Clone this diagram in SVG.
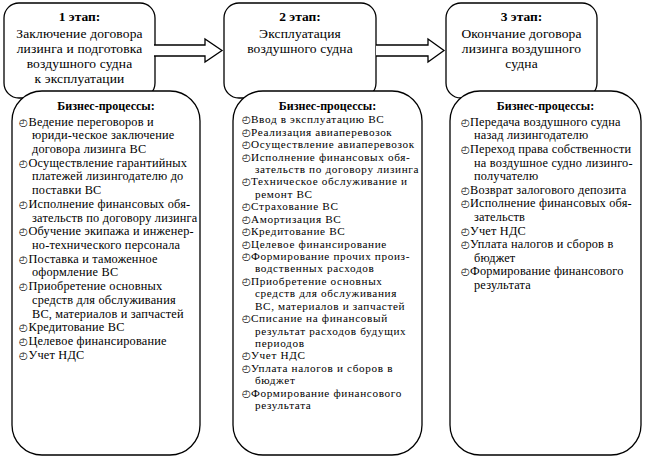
<svg xmlns="http://www.w3.org/2000/svg" width="645" height="460" viewBox="0 0 645 460">
<style>
.box{fill:#fff;stroke:#000;stroke-width:1.3}
.arr{fill:#fff;stroke:#000;stroke-width:1.3;stroke-linejoin:miter}
</style>
<rect width="645" height="460" fill="#fff"/>
<g id="stage1">
<rect class="box" x="4" y="3" width="151" height="95" rx="15"/>
<text font-family="Liberation Serif" font-size="13.5" font-weight="bold" x="79.5" y="21" text-anchor="middle">1 этап:</text>
<text font-family="Liberation Serif" font-size="13.5" letter-spacing="0.15" text-anchor="middle"><tspan x="79.5" y="37.8">Заключение договора</tspan><tspan x="79.5" y="52.8">лизинга и подготовка</tspan><tspan x="79.5" y="67.8">воздушного судна</tspan><tspan x="79.5" y="82.8">к эксплуатации</tspan></text>
</g>
<g id="stage2">
<rect class="box" x="224" y="3" width="152" height="95" rx="15"/>
<text font-family="Liberation Serif" font-size="13.5" font-weight="bold" x="300" y="21" text-anchor="middle">2 этап:</text>
<text font-family="Liberation Serif" font-size="13.5" letter-spacing="0.15" text-anchor="middle"><tspan x="300" y="37.8">Эксплуатация</tspan><tspan x="300" y="52.8">воздушного судна</tspan></text>
</g>
<g id="stage3">
<rect class="box" x="446" y="3" width="151" height="95" rx="15"/>
<text font-family="Liberation Serif" font-size="13.5" font-weight="bold" x="521.5" y="21" text-anchor="middle">3 этап:</text>
<text font-family="Liberation Serif" font-size="13.5" letter-spacing="0.15" text-anchor="middle"><tspan x="521.5" y="37.8">Окончание договора</tspan><tspan x="521.5" y="52.8">лизинга воздушного</tspan><tspan x="521.5" y="67.8">судна</tspan></text>
</g>
<g id="connectors">
<path class="arr" d="M154,45 H205 V39 L222,50.5 L205,62 V56 H154"/>
<path class="arr" d="M376,45 H428 V39 L444,50.5 L428,62 V56 H376"/>
</g>
<g id="processes1">
<rect class="box" x="12" y="91" width="188" height="364" rx="30"/>
<text font-family="Liberation Serif" font-size="12" font-weight="bold" x="106" y="110" text-anchor="middle">Бизнес-процессы:</text>
<text font-family="DejaVu Sans" font-size="10" font-weight="bold"><tspan x="19" y="125.5">◴</tspan><tspan x="19" y="166.7">◴</tspan><tspan x="19" y="207.8">◴</tspan><tspan x="19" y="235.2">◴</tspan><tspan x="19" y="262.7">◴</tspan><tspan x="19" y="290.1">◴</tspan><tspan x="19" y="331.3">◴</tspan><tspan x="19" y="345">◴</tspan><tspan x="19" y="358.7">◴</tspan></text>
<text font-family="Liberation Serif" font-size="12.3" letter-spacing="0.2">
<tspan x="28.5" y="125.5">Ведение переговоров и</tspan>
<tspan x="32" y="139.2">юриди-ческое заключение</tspan>
<tspan x="32" y="152.9">договора лизинга ВС</tspan>
<tspan x="28.5" y="166.7">Осуществление гарантийных</tspan>
<tspan x="32" y="180.4">платежей лизингодателю до</tspan>
<tspan x="32" y="194.1">поставки ВС</tspan>
<tspan x="28.5" y="207.8">Исполнение финансовых обя-</tspan>
<tspan x="32" y="221.5">зательств по договору лизинга</tspan>
<tspan x="28.5" y="235.2">Обучение экипажа и инженер-</tspan>
<tspan x="32" y="249">но-технического персонала</tspan>
<tspan x="28.5" y="262.7">Поставка и таможенное</tspan>
<tspan x="32" y="276.4">оформление ВС</tspan>
<tspan x="28.5" y="290.1">Приобретение основных</tspan>
<tspan x="32" y="303.8">средств для обслуживания</tspan>
<tspan x="32" y="317.5">ВС, материалов и запчастей</tspan>
<tspan x="28.5" y="331.3">Кредитование ВС</tspan>
<tspan x="28.5" y="345">Целевое финансирование</tspan>
<tspan x="28.5" y="358.7">Учет НДС</tspan>
</text>
</g>
<g id="processes2">
<rect class="box" x="233" y="91" width="189" height="364" rx="30"/>
<text font-family="Liberation Serif" font-size="12" font-weight="bold" x="327.5" y="110" text-anchor="middle">Бизнес-процессы:</text>
<text font-family="DejaVu Sans" font-size="10" font-weight="bold"><tspan x="242" y="123.3">◴</tspan><tspan x="242" y="135.7">◴</tspan><tspan x="242" y="148.1">◴</tspan><tspan x="242" y="160.6">◴</tspan><tspan x="242" y="185.4">◴</tspan><tspan x="242" y="210.3">◴</tspan><tspan x="242" y="222.7">◴</tspan><tspan x="242" y="235.1">◴</tspan><tspan x="242" y="247.5">◴</tspan><tspan x="242" y="260">◴</tspan><tspan x="242" y="284.8">◴</tspan><tspan x="242" y="322.1">◴</tspan><tspan x="242" y="359.3">◴</tspan><tspan x="242" y="371.7">◴</tspan><tspan x="242" y="396.6">◴</tspan></text>
<text font-family="Liberation Serif" font-size="11.2" letter-spacing="0.65">
<tspan x="251" y="123.3">Ввод в эксплуатацию ВС</tspan>
<tspan x="251" y="135.7">Реализация авиаперевозок</tspan>
<tspan x="251" y="148.1">Осуществление авиаперевозок</tspan>
<tspan x="251" y="160.6">Исполнение финансовых обя-</tspan>
<tspan x="255" y="173">зательств по договору лизинга</tspan>
<tspan x="251" y="185.4">Техническое обслуживание и</tspan>
<tspan x="255" y="197.8">ремонт ВС</tspan>
<tspan x="251" y="210.3">Страхование ВС</tspan>
<tspan x="251" y="222.7">Амортизация ВС</tspan>
<tspan x="251" y="235.1">Кредитование ВС</tspan>
<tspan x="251" y="247.5">Целевое финансирование</tspan>
<tspan x="251" y="260">Формирование прочих произ-</tspan>
<tspan x="255" y="272.4">водственных расходов</tspan>
<tspan x="251" y="284.8">Приобретение основных</tspan>
<tspan x="255" y="297.2">средств для обслуживания</tspan>
<tspan x="255" y="309.7">ВС, материалов и запчастей</tspan>
<tspan x="251" y="322.1">Списание на финансовый</tspan>
<tspan x="255" y="334.5">результат расходов будущих</tspan>
<tspan x="255" y="346.9">периодов</tspan>
<tspan x="251" y="359.3">Учет НДС</tspan>
<tspan x="251" y="371.7">Уплата налогов и сборов в</tspan>
<tspan x="255" y="384.2">бюджет</tspan>
<tspan x="251" y="396.6">Формирование финансового</tspan>
<tspan x="255" y="409">результата</tspan>
</text>
</g>
<g id="processes3">
<rect class="box" x="450" y="91" width="191" height="364" rx="30"/>
<text font-family="Liberation Serif" font-size="12" font-weight="bold" x="545.5" y="110" text-anchor="middle">Бизнес-процессы:</text>
<text font-family="DejaVu Sans" font-size="10" font-weight="bold"><tspan x="461" y="125.7">◴</tspan><tspan x="461" y="152.9">◴</tspan><tspan x="461" y="193.7">◴</tspan><tspan x="461" y="207.3">◴</tspan><tspan x="461" y="234.5">◴</tspan><tspan x="461" y="248.1">◴</tspan><tspan x="461" y="275.3">◴</tspan></text>
<text font-family="Liberation Serif" font-size="12.3" letter-spacing="0.2">
<tspan x="470" y="125.7">Передача воздушного судна</tspan>
<tspan x="474" y="139.3">назад лизингодателю</tspan>
<tspan x="470" y="152.9">Переход права собственности</tspan>
<tspan x="474" y="166.5">на воздушное судно лизинго-</tspan>
<tspan x="474" y="180.1">получателю</tspan>
<tspan x="470" y="193.7">Возврат залогового депозита</tspan>
<tspan x="470" y="207.3">Исполнение финансовых обя-</tspan>
<tspan x="474" y="220.9">зательств</tspan>
<tspan x="470" y="234.5">Учет НДС</tspan>
<tspan x="470" y="248.1">Уплата налогов и сборов в</tspan>
<tspan x="474" y="261.7">бюджет</tspan>
<tspan x="470" y="275.3">Формирование финансового</tspan>
<tspan x="474" y="288.9">результата</tspan>
</text>
</g>
</svg>
